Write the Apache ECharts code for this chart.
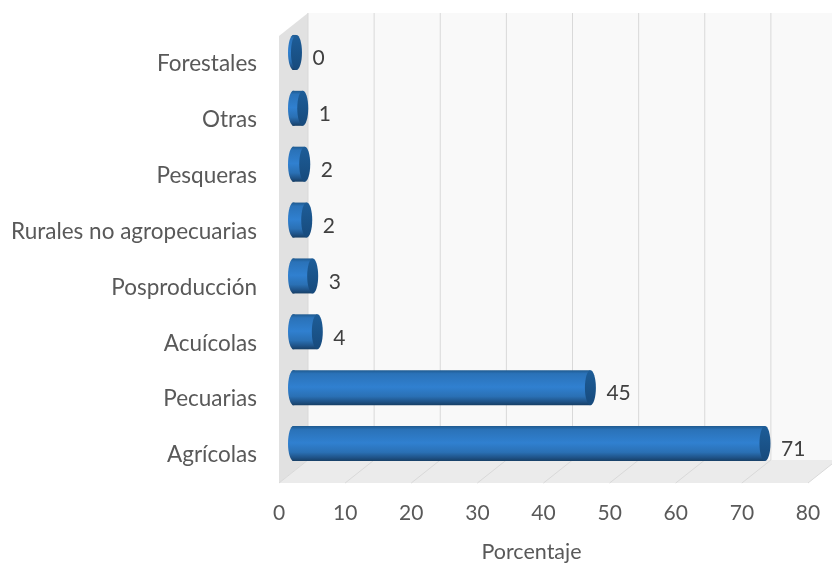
<!DOCTYPE html>
<html><head><meta charset="utf-8">
<style>html,body{margin:0;padding:0;background:#fff}#c{width:832px;height:563px}</style>
<script src="https://cdn.jsdelivr.net/npm/echarts@6/dist/echarts.min.js"></script>
</head><body><div id="c"></div>
<script>
const categories = ['Agrícolas','Pecuarias','Acuícolas','Posproducción','Rurales no agropecuarias','Pesqueras','Otras','Forestales'];
const values = [71.3,44.9,3.6,2.9,2.0,1.7,1.4,0.45];
const shownLabels = ['71','45','4','3','2','2','1','0'];
const axisTicks = [0,10,20,30,40,50,60,70,80];

const DEPTH_X = 29, DEPTH_Y = 23;
const RX = 5.5, RY = 17.5;
const chart = echarts.init(document.getElementById('c'));
const bodyFill = new echarts.graphic.LinearGradient(0,0,0,1,[
  {offset:0,color:'#1f5a8f'},{offset:.1,color:'#2a72b8'},{offset:.48,color:'#3080d0'},
  {offset:.75,color:'#2a70b4'},{offset:.9,color:'#1f5388'},{offset:1,color:'#173f66'}]);
const capFill = new echarts.graphic.LinearGradient(0,0,0,1,[
  {offset:0,color:'#1d5d98'},{offset:1,color:'#174a7c'}]);

function renderBox(params, api){
  const c = params.coordSys, bottom = c.y + c.height;
  const x0 = api.coord([0,0])[0], x1 = api.coord([80,0])[0];
  const kids = [
    {type:'polygon',shape:{points:[[x0+DEPTH_X,c.y-DEPTH_Y],[x1+DEPTH_X,c.y-DEPTH_Y],[x1+DEPTH_X,bottom-DEPTH_Y],[x0+DEPTH_X,bottom-DEPTH_Y]]},style:{fill:'#f9f9f9'}},
    {type:'polygon',shape:{points:[[x0,c.y],[x0+DEPTH_X,c.y-DEPTH_Y],[x0+DEPTH_X,bottom-DEPTH_Y],[x0,bottom]]},style:{fill:'#e1e1e1'}},
    {type:'polygon',shape:{points:[[x0,bottom],[x1,bottom],[x1+DEPTH_X,bottom-DEPTH_Y],[x0+DEPTH_X,bottom-DEPTH_Y]]},style:{fill:'#ebebeb'}}
  ];
  axisTicks.forEach(t=>{
    const x = api.coord([t,0])[0];
    kids.push({type:'line',shape:{x1:x+DEPTH_X,y1:c.y-DEPTH_Y,x2:x+DEPTH_X,y2:bottom-DEPTH_Y},style:{stroke:'#d9d9d9',lineWidth:1}});
    kids.push({type:'line',shape:{x1:x,y1:bottom,x2:x+DEPTH_X,y2:bottom-DEPTH_Y},style:{stroke:'#d9d9d9',lineWidth:1}});
  });
  return {type:'group',children:kids};
}
function renderBar(params, api){
  const p0 = api.coord([0, api.value(1)]), p1 = api.coord([api.value(0), api.value(1)]);
  const cy = p0[1] - DEPTH_Y/2, xa = p0[0] + DEPTH_X/2, xb = p1[0] + DEPTH_X/2;
  return {type:'group',children:[
    {type:'ellipse',shape:{cx:xa,cy:cy,rx:RX,ry:RY},style:{fill:bodyFill}},
    {type:'rect',shape:{x:xa-1,y:cy-RY,width:Math.max(xb-xa+1,0),height:RY*2},style:{fill:bodyFill}},
    {type:'ellipse',shape:{cx:xb,cy:cy,rx:RX,ry:RY},style:{fill:capFill}},
    {type:'text',style:{text:shownLabels[params.dataIndex],x:xb+RX+10.5,y:cy+6,fill:'#404040',font:'21px Lato',verticalAlign:'middle',textAlign:'left'}}
  ]};
}
chart.setOption({
  animation:false,
  backgroundColor:'#fff',
  grid:{left:279,top:36,width:529,height:447,containLabel:false,outerBoundsMode:'none'},
  xAxis:{type:'value',min:0,max:80,interval:10,
    name:'Porcentaje',nameLocation:'middle',nameGap:58,
    nameTextStyle:{fontFamily:'Lato',fontSize:21.5,color:'#595959',padding:[0,24,0,0]},
    axisLine:{show:false},axisTick:{show:false},splitLine:{show:false},
    axisLabel:{fontFamily:'Lato',fontSize:21,color:'#595959',margin:20,hideOverlap:false,showMinLabel:true,showMaxLabel:true}},
  yAxis:{type:'category',data:categories,
    axisLine:{show:false},axisTick:{show:false},splitLine:{show:false},
    axisLabel:{fontFamily:'Lato',fontSize:22.5,color:'#595959',margin:22,interval:0}},
  series:[
    {type:'custom',clip:false,silent:true,z:1,renderItem:renderBox,data:[[0,0]],encode:{x:0,y:1}},
    {type:'custom',clip:false,silent:true,z:2,renderItem:renderBar,data:values.map((v,i)=>[v,i]),encode:{x:0,y:1}}
  ]
});
</script></body></html>
